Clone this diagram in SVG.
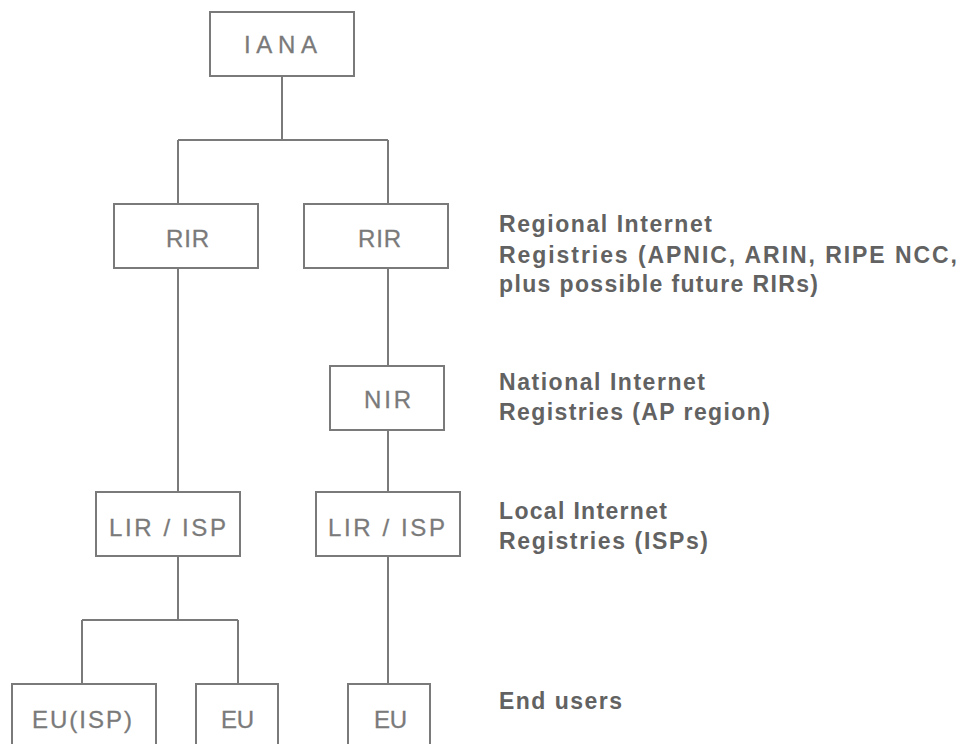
<svg xmlns="http://www.w3.org/2000/svg" width="962" height="744" viewBox="0 0 962 744">
<style>
.box{fill:#fff;stroke:#7a7a7a;stroke-width:2}
.lbl{font-family:"Liberation Sans",Arial,sans-serif;font-size:24px;fill:#7a7a7a;stroke:#7a7a7a;stroke-width:0.3}
.conn{fill:none;stroke:#7a7a7a;stroke-width:2}
.note{font-family:"Liberation Sans",Arial,sans-serif;font-size:23px;font-weight:bold;fill:#626262}
</style>
<rect width="962" height="744" fill="#fff"/>
<g id="connectors">
<path class="conn" d="M282 76V140M178 140H388M178 140V204M388 140V204"/>
<path class="conn" d="M178 268V492"/>
<path class="conn" d="M388 268V366M388 430V492"/>
<path class="conn" d="M178 556V620M82 620H238M82 620V684M238 620V684"/>
<path class="conn" d="M388 556V684"/>
</g>
<g id="iana"><rect class="box" x="210" y="12" width="144" height="64"/><text class="lbl" x="244" y="53" textLength="73" lengthAdjust="spacing">IANA</text></g>
<g id="rir1"><rect class="box" x="114" y="204" width="144" height="64"/><text class="lbl" x="166" y="247" textLength="43" lengthAdjust="spacing">RIR</text></g>
<g id="rir2"><rect class="box" x="304" y="204" width="144" height="64"/><text class="lbl" x="358" y="247" textLength="43" lengthAdjust="spacing">RIR</text></g>
<g id="nir"><rect class="box" x="330" y="366" width="114" height="64"/><text class="lbl" x="364" y="408" textLength="47" lengthAdjust="spacing">NIR</text></g>
<g id="lir1"><rect class="box" x="96" y="492" width="144" height="64"/><text class="lbl" x="109" y="536" textLength="117" lengthAdjust="spacing">LIR / ISP</text></g>
<g id="lir2"><rect class="box" x="316" y="492" width="144" height="64"/><text class="lbl" x="328" y="536" textLength="117" lengthAdjust="spacing">LIR / ISP</text></g>
<g id="eu-isp"><rect class="box" x="12" y="684" width="144" height="64"/><text class="lbl" x="32" y="728" textLength="100" lengthAdjust="spacing">EU(ISP)</text></g>
<g id="eu1"><rect class="box" x="196" y="684" width="82" height="64"/><text class="lbl" x="221" y="728" textLength="33" lengthAdjust="spacing">EU</text></g>
<g id="eu2"><rect class="box" x="348" y="684" width="82" height="64"/><text class="lbl" x="374" y="728" textLength="33" lengthAdjust="spacing">EU</text></g>
<g id="notes">
<text class="note" x="499" y="232" textLength="213" lengthAdjust="spacing">Regional Internet</text>
<text class="note" x="499" y="263" textLength="458" lengthAdjust="spacing">Registries (APNIC, ARIN, RIPE NCC,</text>
<text class="note" x="499" y="292" textLength="319" lengthAdjust="spacing">plus possible future RIRs)</text>
<text class="note" x="499" y="390" textLength="206" lengthAdjust="spacing">National Internet</text>
<text class="note" x="499" y="420" textLength="271" lengthAdjust="spacing">Registries (AP region)</text>
<text class="note" x="499" y="519" textLength="168" lengthAdjust="spacing">Local Internet</text>
<text class="note" x="499" y="549" textLength="209" lengthAdjust="spacing">Registries (ISPs)</text>
<text class="note" x="499" y="709" textLength="123" lengthAdjust="spacing">End users</text>
</g>
</svg>
